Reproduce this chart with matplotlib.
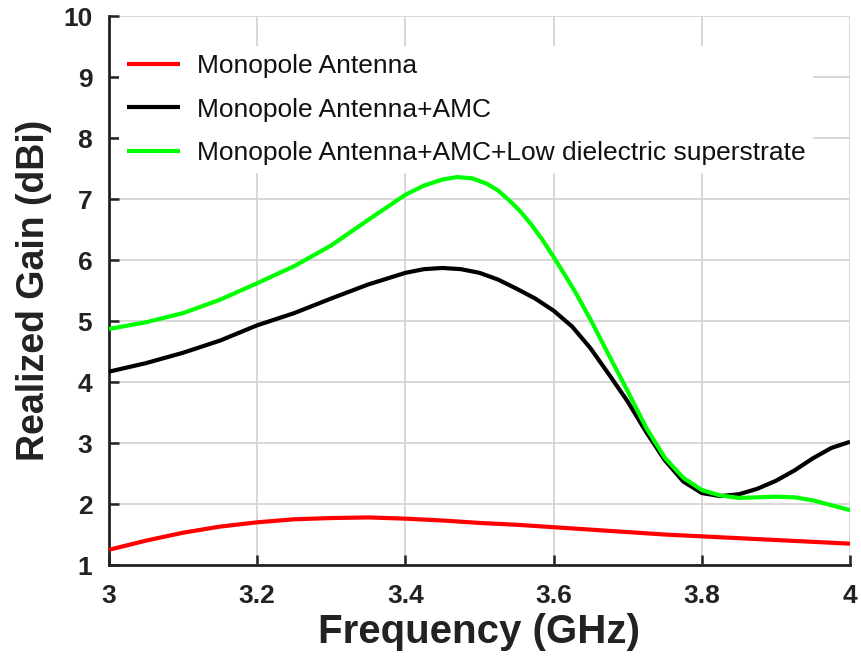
import matplotlib
matplotlib.use("Agg")
import matplotlib.pyplot as plt

# Realized gain vs. frequency for the three antenna configurations
freq_red = [3.00, 3.05, 3.10, 3.15, 3.20, 3.25, 3.30, 3.35, 3.40, 3.45, 3.50,
            3.55, 3.60, 3.65, 3.70, 3.75, 3.80, 3.85, 3.90, 3.95, 4.00]
gain_monopole = [1.25, 1.40, 1.53, 1.63, 1.70, 1.75, 1.77, 1.78, 1.76, 1.73, 1.69,
                 1.66, 1.62, 1.58, 1.54, 1.50, 1.47, 1.44, 1.41, 1.38, 1.35]

freq_amc = [3.00, 3.05, 3.10, 3.15, 3.20, 3.25, 3.30, 3.35, 3.40, 3.425, 3.45,
            3.475, 3.50, 3.525, 3.55, 3.575, 3.60, 3.625, 3.65, 3.675, 3.70,
            3.725, 3.75, 3.775, 3.80, 3.825, 3.85, 3.875, 3.90, 3.925, 3.95,
            3.975, 4.00]
gain_amc = [4.17, 4.31, 4.48, 4.68, 4.93, 5.13, 5.37, 5.60, 5.79, 5.85, 5.87,
            5.85, 5.79, 5.68, 5.53, 5.37, 5.17, 4.91, 4.55, 4.12, 3.68,
            3.18, 2.72, 2.37, 2.18, 2.13, 2.16, 2.25, 2.38, 2.55, 2.75,
            2.92, 3.02]

freq_sup = [3.00, 3.05, 3.10, 3.15, 3.20, 3.25, 3.30, 3.35, 3.40, 3.425, 3.45,
            3.47, 3.49, 3.51, 3.525, 3.54, 3.555, 3.57, 3.585, 3.60, 3.615,
            3.63, 3.65, 3.675, 3.70, 3.725, 3.75, 3.775, 3.80, 3.825, 3.85,
            3.875, 3.90, 3.925, 3.95, 3.975, 4.00]
gain_sup = [4.87, 4.98, 5.13, 5.35, 5.62, 5.90, 6.24, 6.66, 7.07, 7.22, 7.32,
            7.36, 7.34, 7.25, 7.14, 6.98, 6.80, 6.58, 6.33, 6.05, 5.76,
            5.46, 5.02, 4.43, 3.85, 3.25, 2.76, 2.43, 2.23, 2.14, 2.10,
            2.11, 2.12, 2.11, 2.06, 1.98, 1.90]

labels = ["Monopole Antenna",
          "Monopole Antenna+AMC",
          "Monopole Antenna+AMC+Low dielectric superstrate"]
colors = ["#ff0000", "#000000", "#00ff00"]

xticks = [3, 3.2, 3.4, 3.6, 3.8, 4]
xticklabels = ["3", "3.2", "3.4", "3.6", "3.8", "4"]
yticks = list(range(1, 11))

FONT = "Liberation Sans"
INK = "#222222"

fig = plt.figure(figsize=(8.61, 6.57), dpi=100)
ax = fig.add_axes([0.1266, 0.140, 0.8606, 0.8356])

for fx, gy, lab, col in zip([freq_red, freq_amc, freq_sup],
                            [gain_monopole, gain_amc, gain_sup], labels, colors):
    ax.plot(fx, gy, color=col, lw=3.0, label=lab, solid_capstyle="butt",
            solid_joinstyle="round", zorder=3)

ax.set_xlim(3, 4)
ax.set_ylim(1, 10)
ax.set_xticks(xticks)
ax.set_xticklabels(xticklabels)
ax.set_yticks(yticks)

ax.grid(True, color="#d4d4d4", lw=1.3, zorder=0)
ax.set_axisbelow(True)
for s in ["top", "right"]:
    ax.spines[s].set_visible(False)
for s in ["left", "bottom"]:
    ax.spines[s].set_linewidth(2.0)
    ax.spines[s].set_color(INK)

ax.tick_params(direction="in", length=7, width=1.8, color=INK)
ax.tick_params(axis="y", pad=12)
ax.tick_params(axis="x", pad=14)
for t in ax.get_yticklabels() + ax.get_xticklabels():
    t.set_fontfamily(FONT)
    t.set_fontweight("bold")
    t.set_fontsize(19)
    t.set_color(INK)

ax.set_xlabel("Frequency (GHz)", fontfamily=FONT, fontweight="bold",
              fontsize=29, color=INK, labelpad=3)
ax.set_ylabel("Realized Gain (dBi)", fontfamily=FONT, fontweight="bold",
              fontsize=27, color=INK, labelpad=8)

leg = ax.legend(loc="upper left", bbox_to_anchor=(0.0135, 0.945), frameon=True,
                fancybox=False, edgecolor="none", facecolor="white", framealpha=1.0,
                prop={"family": FONT, "size": 19}, handlelength=2.0,
                handletextpad=0.65, labelspacing=0.735, borderpad=0.3,
                borderaxespad=0.0)
for t in leg.get_texts():
    t.set_color("#111111")

fig.savefig("out.png", dpi=100)
